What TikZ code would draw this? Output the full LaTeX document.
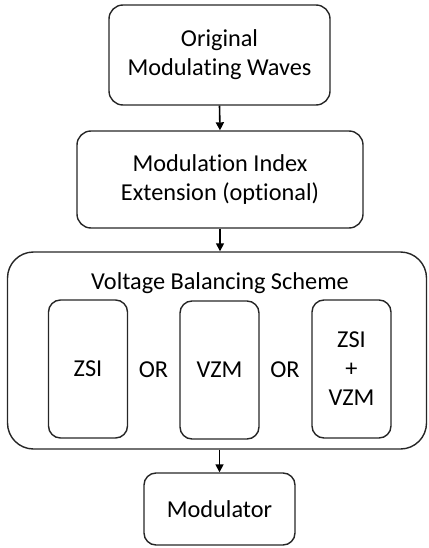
\documentclass[tikz,border=0pt]{standalone}
\usepackage{fontspec}
\setmainfont{Carlito}[RawFeature={-liga;-clig;-calt;-dlig}]
\usetikzlibrary{arrows.meta}
\begin{document}
\begin{tikzpicture}[x=1pt,y=-1pt,
  box/.style={draw=black!85, line width=1.4pt, rounded corners=14pt, inner sep=0pt, align=center, font=\fontsize{24.3}{29}\selectfont},
  inbox/.style={box, rounded corners=12pt, minimum width=79pt, minimum height=138pt},
  lbl/.style={font=\fontsize{24.3}{29}\selectfont, align=center, inner sep=0pt},
  arr/.style={line width=1.6pt, -{Triangle[length=8pt,width=8pt]}}]
\useasboundingbox (0,0) rectangle (428,548);
\node[box, minimum width=221pt, minimum height=100pt] (orig) at (219.5,55) {Original\\Modulating Waves};
\node[box, minimum width=286pt, minimum height=97pt] (mie) at (220,179.5) {Modulation Index\\Extension (optional)};
\node[box, rounded corners=26pt, minimum width=419pt, minimum height=197pt] (vbs) at (217,350.5) {};
\node[lbl] (title) at (220,283) {Voltage Balancing Scheme};
\node[inbox] (zsi) at (88,369) {ZSI};
\node[inbox] (vzm) at (219.5,370) {VZM};
\node[inbox] (both) at (351.5,369) {ZSI\\+\\VZM};
\node[lbl] (or1) at (153.5,370) {OR};
\node[lbl] (or2) at (285,370) {OR};
\node[box, rounded corners=12pt, minimum width=151pt, minimum height=72pt] (mod) at (219.5,509) {Modulator};
\draw[arr] (orig.south) -- (mie.north);
\draw[arr] (mie.south) -- (mie.south |- vbs.north);
\draw[arr] (mod.north |- vbs.south) -- (mod.north);
\end{tikzpicture}
\end{document}
